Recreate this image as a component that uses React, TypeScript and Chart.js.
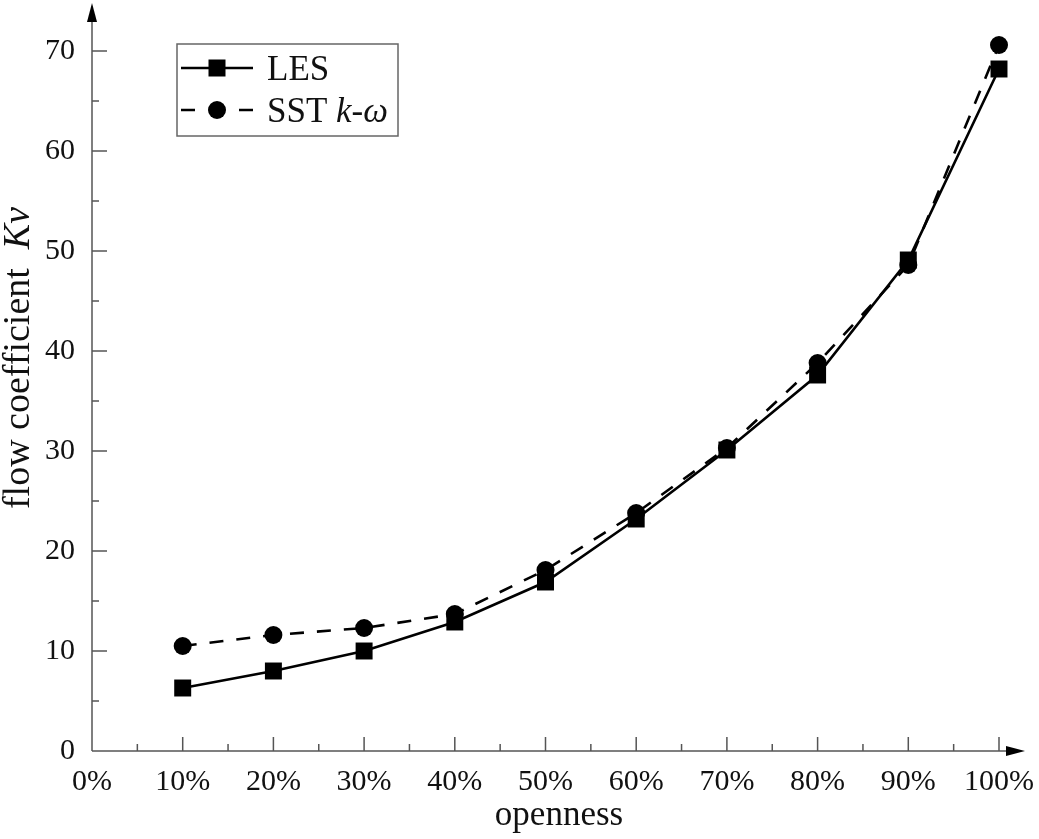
import React, { useEffect, useRef } from 'react';
import { Chart, registerables } from 'chart.js';

Chart.register(...registerables);

const openness = [10, 20, 30, 40, 50, 60, 70, 80, 90, 100];
const lesValues = [6.3, 8.0, 10.0, 12.9, 16.9, 23.2, 30.1, 37.6, 49.1, 68.2];
const sstValues = [10.5, 11.6, 12.3, 13.7, 18.1, 23.8, 30.3, 38.8, 48.6, 70.6];
const xTickValues = [0, 10, 20, 30, 40, 50, 60, 70, 80, 90, 100];
const yTickValues = [0, 10, 20, 30, 40, 50, 60, 70];

const SERIF = '"Liberation Serif", "Times New Roman", serif';
const AXIS_COLOR = '#555';

type Part = { text: string; italic?: boolean };

function drawRich(ctx: CanvasRenderingContext2D, parts: Part[], x: number, y: number, size: number, align: 'left' | 'center') {
  const fontOf = (p: Part) => `${p.italic ? 'italic ' : ''}${size}px ${SERIF}`;
  let total = 0;
  for (const p of parts) {
    ctx.font = fontOf(p);
    total += ctx.measureText(p.text).width;
  }
  let cx = align === 'center' ? x - total / 2 : x;
  ctx.textAlign = 'left';
  ctx.textBaseline = 'alphabetic';
  for (const p of parts) {
    ctx.font = fontOf(p);
    ctx.fillText(p.text, cx, y);
    cx += ctx.measureText(p.text).width;
  }
}

const axesPlugin = {
  id: 'arrowAxes',
  beforeDatasetsDraw(chart: any) {
    const ctx: CanvasRenderingContext2D = chart.ctx;
    const xs = chart.scales.x;
    const ys = chart.scales.y;
    const area = chart.chartArea;
    const x0 = xs.getPixelForValue(0);
    const y0 = ys.getPixelForValue(0);
    const yTip = area.top - 48;
    const xTip = area.right + 26;
    ctx.save();
    ctx.strokeStyle = AXIS_COLOR;
    ctx.fillStyle = '#000';
    ctx.lineWidth = 1.5;
    ctx.beginPath();
    ctx.moveTo(x0, y0);
    ctx.lineTo(x0, yTip + 10);
    ctx.moveTo(x0, y0);
    ctx.lineTo(xTip - 10, y0);
    for (let v = 5; v <= 70; v += 5) {
      const py = ys.getPixelForValue(v);
      const len = v % 10 === 0 ? 15 : 7;
      ctx.moveTo(x0, py);
      ctx.lineTo(x0 + len, py);
    }
    for (let v = 5; v <= 100; v += 5) {
      const px = xs.getPixelForValue(v);
      const len = v % 10 === 0 ? 14 : 7;
      ctx.moveTo(px, y0);
      ctx.lineTo(px, y0 - len);
    }
    ctx.stroke();
    ctx.beginPath();
    ctx.moveTo(x0, yTip);
    ctx.lineTo(x0 - 5, yTip + 19);
    ctx.lineTo(x0 + 5, yTip + 19);
    ctx.closePath();
    ctx.fill();
    ctx.beginPath();
    ctx.moveTo(xTip, y0);
    ctx.lineTo(xTip - 19, y0 - 5);
    ctx.lineTo(xTip - 19, y0 + 5);
    ctx.closePath();
    ctx.fill();
    ctx.restore();
  },
  afterDraw(chart: any) {
    const ctx: CanvasRenderingContext2D = chart.ctx;
    const area = chart.chartArea;
    ctx.save();
    ctx.fillStyle = '#111';
    drawRich(ctx, [{ text: 'openness' }], 559, 825, 35, 'center');
    ctx.save();
    ctx.translate(29, 358);
    ctx.rotate(-Math.PI / 2);
    drawRich(ctx, [{ text: 'flow coefficient  ' }, { text: 'Kv', italic: true }], 0, 0, 38, 'center');
    ctx.restore();

    const bx = area.left + 85;
    const by = area.top - 7;
    const bw = 221;
    const bh = 92;
    ctx.strokeStyle = '#666';
    ctx.lineWidth = 1.5;
    ctx.strokeRect(bx, by, bw, bh);
    const lx1 = bx + 4;
    const lx2 = bx + 76;
    const mx = (lx1 + lx2) / 2;
    const r1 = by + 24;
    const r2 = by + 66;
    ctx.strokeStyle = '#000';
    ctx.fillStyle = '#000';
    ctx.lineWidth = 2.5;
    ctx.beginPath();
    ctx.moveTo(lx1, r1);
    ctx.lineTo(lx2, r1);
    ctx.stroke();
    ctx.fillRect(mx - 8.5, r1 - 8.5, 17, 17);
    ctx.beginPath();
    ctx.moveTo(lx1, r2);
    ctx.lineTo(lx1 + 14, r2);
    ctx.moveTo(lx2 - 14, r2);
    ctx.lineTo(lx2, r2);
    ctx.stroke();
    ctx.beginPath();
    ctx.arc(mx, r2, 9, 0, Math.PI * 2);
    ctx.fill();
    ctx.fillStyle = '#111';
    drawRich(ctx, [{ text: 'LES' }], bx + 90, r1 + 12, 35, 'left');
    drawRich(ctx, [{ text: 'SST ' }, { text: 'k-ω', italic: true }], bx + 90, r2 + 12, 35, 'left');
    ctx.restore();
  },
};

export default function App() {
  const ref = useRef<HTMLCanvasElement | null>(null);
  useEffect(() => {
    document.body.style.margin = '0';
    if (!ref.current) return;
    const chart = new Chart(ref.current, {
      type: 'line',
      data: {
        datasets: [
          {
            label: 'LES',
            data: openness.map((x, i) => ({ x, y: lesValues[i] })),
            borderColor: '#000',
            backgroundColor: '#000',
            borderWidth: 2.6,
            pointStyle: 'rect',
            pointRadius: 12,
            pointBorderWidth: 0,
            tension: 0,
            clip: false as any,
          },
          {
            label: 'SST k-ω',
            data: openness.map((x, i) => ({ x, y: sstValues[i] })),
            borderColor: '#000',
            backgroundColor: '#000',
            borderWidth: 2.6,
            borderDash: [14, 13],
            pointStyle: 'circle',
            pointRadius: 9,
            pointBorderWidth: 0,
            tension: 0,
            clip: false as any,
          },
        ],
      },
      options: {
        animation: false,
        responsive: false,
        devicePixelRatio: 1,
        layout: { padding: { left: 0, top: 51, right: 40, bottom: 0 } },
        plugins: { legend: { display: false }, tooltip: { enabled: false } },
        scales: {
          x: {
            type: 'linear',
            min: 0,
            max: 100,
            grid: { display: false, drawTicks: false },
            border: { display: false },
            afterFit: (s: any) => { s.height = 88; s.paddingRight = 0; s.paddingLeft = 0; },
            afterBuildTicks: (s: any) => { s.ticks = xTickValues.map((v) => ({ value: v })); },
            ticks: {
              padding: 13,
              color: '#111',
              maxRotation: 0,
              font: { family: SERIF, size: 30 },
              callback: (v: any) => `${v}%`,
            },
          },
          y: {
            type: 'linear',
            min: 0,
            max: 70,
            grid: { display: false, drawTicks: false },
            border: { display: false },
            afterFit: (s: any) => { s.width = 92; s.paddingTop = 0; s.paddingBottom = 0; },
            afterBuildTicks: (s: any) => { s.ticks = yTickValues.map((v) => ({ value: v })); },
            ticks: {
              padding: 17,
              color: '#111',
              font: { family: SERIF, size: 30 },
            },
          },
        },
      },
      plugins: [axesPlugin],
    });
    return () => chart.destroy();
  }, []);
  return (
    <div style={{ width: 1039, height: 839, background: '#fff' }}>
      <canvas ref={ref} width={1039} height={839} style={{ display: 'block' }} />
    </div>
  );
}
